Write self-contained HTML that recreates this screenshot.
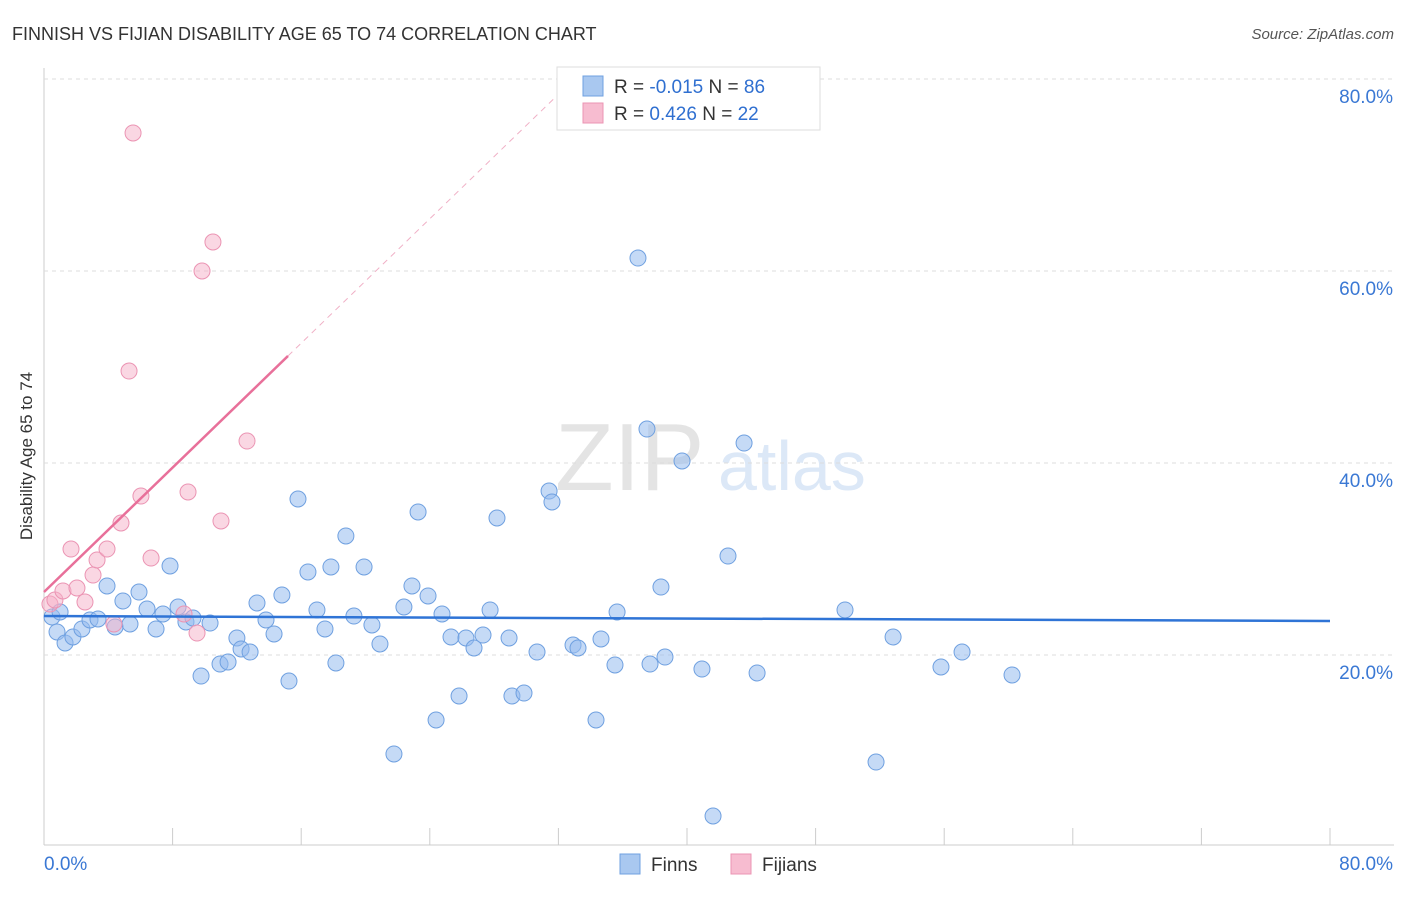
<!DOCTYPE html>
<html><head><meta charset="utf-8"><style>
body{margin:0;background:#fff;font-family:"Liberation Sans",sans-serif}
svg text{font-family:"Liberation Sans",sans-serif}
</style></head><body>
<svg id="c" width="1406" height="892">
<text x="12" y="40" font-size="18" fill="#333">FINNISH VS FIJIAN DISABILITY AGE 65 TO 74 CORRELATION CHART</text>
<text x="1394" y="39" font-size="15" fill="#555" text-anchor="end" font-style="italic">Source: ZipAtlas.com</text>
<text x="32" y="456" font-size="17" fill="#333" text-anchor="middle" transform="rotate(-90 32 456)">Disability Age 65 to 74</text>
<g><text x="555" y="490" font-size="96" fill="#e4e4e4" font-family="Liberation Serif,serif">ZIP</text><text x="718" y="490" font-size="70" fill="#dce8f7">atlas</text></g>
<g id="grid"></g><g id="marks"></g>
<g>
<rect x="557" y="67" width="263" height="63" fill="#fff" stroke="#ddd"/>
<rect x="583" y="76" width="20" height="20" fill="#a9c8f0" stroke="#6fa0e0"/>
<rect x="583" y="103" width="20" height="20" fill="#f7bcd0" stroke="#eb94b3"/>
<text x="614" y="93" font-size="19" fill="#333">R = <tspan fill="#2f6fd0">-0.015</tspan>   N = <tspan fill="#2f6fd0">86</tspan></text>
<text x="614" y="120" font-size="19" fill="#333">R =  <tspan fill="#2f6fd0">0.426</tspan>   N = <tspan fill="#2f6fd0">22</tspan></text>
</g>
<g>
<rect x="620" y="854" width="20" height="20" fill="#a9c8f0" stroke="#6fa0e0"/><text x="651" y="871" font-size="19" fill="#333">Finns</text>
<rect x="731" y="854" width="20" height="20" fill="#f7bcd0" stroke="#eb94b3"/><text x="762" y="871" font-size="19" fill="#333">Fijians</text>
</g>
</svg>
<script>
const finnsX=[0.50,0.81,1.31,1.80,2.36,2.86,3.36,3.92,4.42,4.91,5.35,5.91,6.41,6.97,7.40,7.84,8.34,8.83,9.27,9.77,10.33,10.95,11.45,12.00,12.26,12.82,13.25,13.81,14.31,14.80,15.24,15.80,16.42,16.98,17.48,17.85,18.16,18.78,19.28,19.91,20.40,20.90,21.77,22.39,22.89,23.27,23.89,24.39,24.76,25.32,25.82,26.25,26.75,27.31,27.75,28.18,28.93,29.11,29.86,30.67,31.42,31.60,32.91,33.22,34.34,34.65,35.52,35.65,36.95,37.51,37.70,38.38,38.63,39.69,40.93,41.62,42.55,43.55,44.36,49.83,51.76,52.82,55.80,57.11,60.22,1.00];
const finnsY=[23.96,22.40,21.25,21.88,22.71,23.65,23.75,27.19,22.92,25.63,23.23,26.56,24.79,22.71,24.27,29.27,25.00,23.44,23.85,17.81,23.33,19.06,19.27,21.77,20.63,20.31,25.42,23.65,22.19,26.25,17.29,36.25,28.65,24.69,22.71,29.17,19.17,32.40,24.06,29.17,23.13,21.15,9.69,25.00,27.19,34.90,26.15,13.23,24.27,21.88,15.73,21.77,20.73,22.08,24.69,34.27,21.77,15.73,16.04,20.31,37.08,35.94,21.04,20.73,13.23,21.67,18.96,24.48,61.35,43.54,19.06,27.08,19.79,40.21,18.54,3.23,30.31,42.08,18.13,24.69,8.85,21.88,18.75,20.31,17.92,24.48];
const fijiX=[0.37,0.68,1.18,1.68,2.05,2.55,3.05,3.30,3.92,4.35,4.79,5.29,5.54,6.03,6.66,8.71,8.96,9.52,9.83,10.51,11.01,12.63];
const fijiY=[25.31,25.73,26.67,31.04,26.98,25.52,28.33,29.90,31.04,23.23,33.75,49.58,74.38,36.56,30.10,24.27,36.98,22.29,60.00,63.02,33.96,42.29];
const blueTrend=[24.06,23.54];
const pinkTrend=[26.56,1.62];
const yTicks=[20,40,60,80];
const xTicks=[0,8,16,24,32,40,48,56,64,72,80];
const NS="http://www.w3.org/2000/svg";
const sx=v=>44+v/80*1286, sy=v=>847-v/20*192;
function mk(t,a,p,name){const e=document.createElementNS(NS,t);for(const k in a)e.setAttribute(k,a[k]);


p.appendChild(e);return e;}
const g=document.getElementById('grid'),m=document.getElementById('marks');
mk('line',{x1:44,y1:68,x2:44,y2:845,stroke:'#ccc'},g,'y-axis-line');
mk('line',{x1:44,y1:845,x2:1394,y2:845,stroke:'#ccc'},g,'x-axis-line');
yTicks.forEach(v=>{mk('line',{x1:44,y1:sy(v),x2:1394,y2:sy(v),stroke:'#ddd','stroke-dasharray':'4,4'},g,'gridline');
const t=mk('text',{x:1393,y:sy(v)+24,'font-size':19,fill:'#3a78d4','text-anchor':'end'},g,'y-tick-label');t.textContent=v.toFixed(1)+'%';});
xTicks.forEach(v=>{mk('line',{x1:sx(v),y1:828,x2:sx(v),y2:845,stroke:'#ccc'},g,'x-tick');});
let t=mk('text',{x:44,y:870,'font-size':19,fill:'#3a78d4'},g,'x-tick-label');t.textContent='0.0%';
t=mk('text',{x:1393,y:870,'font-size':19,fill:'#3a78d4','text-anchor':'end'},g,'x-tick-label');t.textContent='80.0%';
finnsX.forEach((x,i)=>mk('circle',{cx:sx(x),cy:sy(finnsY[i]),r:8,fill:'rgba(150,188,238,0.55)',stroke:'#6fa0e0','stroke-width':1},m,'finns-point'));
fijiX.forEach((x,i)=>mk('circle',{cx:sx(x),cy:sy(fijiY[i]),r:8,fill:'rgba(246,176,200,0.5)',stroke:'#eb94b3','stroke-width':1},m,'fijians-point'));
mk('line',{x1:sx(0),y1:sy(blueTrend[0]),x2:sx(80),y2:sy(blueTrend[1]),stroke:'#2f74d6','stroke-width':2.5},m,'finns-trend-line');
const pe=15.18,pd=33;
mk('line',{x1:sx(0),y1:sy(pinkTrend[0]),x2:sx(pe),y2:sy(pinkTrend[0]+pinkTrend[1]*pe),stroke:'#e8709a','stroke-width':2.5},m,'fijians-trend-line');
mk('line',{x1:sx(pe),y1:sy(pinkTrend[0]+pinkTrend[1]*pe),x2:sx(pd),y2:sy(pinkTrend[0]+pinkTrend[1]*pd),stroke:'#f0b0c6','stroke-width':1,'stroke-dasharray':'6,5'},m,'fijians-trend-extension');
</script>
</body></html>
